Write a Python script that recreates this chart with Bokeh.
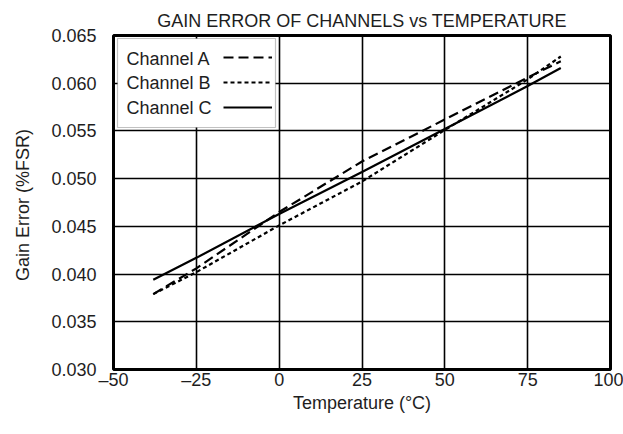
from bokeh.plotting import figure
from bokeh.models import (Range1d, FixedTicker, NumeralTickFormatter, Legend, LegendItem,
                          Label, BoxAnnotation, ColumnDataSource)
from bokeh.embed import file_html
from bokeh.resources import INLINE

# ---- data ----
temps = [-38, -25, 0, 25, 50, 75, 85]
chan_a = [0.0379, 0.0406, 0.0465, 0.0518, 0.0562, 0.0606, 0.0623]
chan_b = [0.0379, 0.0402, 0.0451, 0.0497, 0.0551, 0.0604, 0.0628]
chan_c = [0.0394, 0.0417, 0.0463, 0.0507, 0.0552, 0.0597, 0.0616]
series_names = ["Channel A", "Channel B", "Channel C"]
x_ticks = [-50, -25, 0, 25, 50, 75, 100]
x_tick_labels = ["\u201350", "\u201325", "0", "25", "50", "75", "100"]
y_ticks = [0.030, 0.035, 0.040, 0.045, 0.050, 0.055, 0.060, 0.065]

FONT = "Liberation Sans"
TXT = "#1e1e1e"

p = figure(width=623, height=434, output_backend="svg", toolbar_location=None,
           x_range=Range1d(-50, 100), y_range=Range1d(0.030, 0.065),
           min_border_left=113, min_border_right=13, min_border_top=35,
           min_border_bottom=65)

p.title.text = "GAIN ERROR OF CHANNELS vs TEMPERATURE"
p.title.align = "center"
p.title.text_font = FONT
p.title.text_font_size = "18px"
p.title.text_font_style = "normal"
p.title.text_color = TXT
p.title.standoff = 10

p.outline_line_color = "black"
p.outline_line_width = 3
p.background_fill_color = "white"

p.xaxis.ticker = FixedTicker(ticks=x_ticks)
p.xaxis.major_label_overrides = {t: s for t, s in zip(x_ticks, x_tick_labels)}
p.yaxis.ticker = FixedTicker(ticks=y_ticks)
p.yaxis.formatter = NumeralTickFormatter(format="0.000")

for ax in (p.xaxis[0], p.yaxis[0]):
    ax.axis_line_color = None
    ax.major_tick_line_color = None
    ax.minor_tick_line_color = None
    ax.major_tick_out = 0
    ax.major_tick_in = 0
    ax.major_label_text_font = FONT
    ax.major_label_text_font_size = "18px"
    ax.major_label_text_color = TXT
    ax.axis_label_text_font = FONT
    ax.axis_label_text_font_size = "18px"
    ax.axis_label_text_font_style = "normal"
    ax.axis_label_text_color = TXT

p.xaxis.axis_label = "Temperature (\u00b0C)"
p.xaxis.major_label_standoff = 0
p.xaxis.axis_label_standoff = 0
p.yaxis.axis_label = "Gain Error  (%FSR)"
p.yaxis.major_label_standoff = 17
p.yaxis.axis_label_standoff = 15

p.xgrid.ticker = FixedTicker(ticks=x_ticks)
p.ygrid.ticker = FixedTicker(ticks=y_ticks)
for g in (p.xgrid[0], p.ygrid[0]):
    g.grid_line_color = "black"
    g.grid_line_width = 1.6

src = ColumnDataSource(dict(t=temps, a=chan_a, b=chan_b, c=chan_c))
ra = p.line("t", "a", source=src, line_color="black", line_width=2.2, line_dash="10 5")
rb = p.line("t", "b", source=src, line_color="black", line_width=2.2, line_dash="4 3")
rc = p.line("t", "c", source=src, line_color="black", line_width=2.2)

# legend box (white, covers grid)
box = BoxAnnotation(left=4, right=162, top=331, bottom=242,
                    left_units="screen", right_units="screen",
                    top_units="screen", bottom_units="screen",
                    fill_color="white", fill_alpha=1.0,
                    line_color="#333333", line_width=1.2, level="annotation")
p.add_layout(box)

# legend texts on the left
row_y = [311, 287, 262]
for name, yy in zip(series_names, row_y):
    p.add_layout(Label(x=13, y=yy, x_units="screen", y_units="screen", text=name,
                       text_font=FONT, text_font_size="18px", text_color=TXT,
                       text_baseline="middle", text_align="left"))

# legend line samples on the right
legend = Legend(items=[LegendItem(label=" ", renderers=[r]) for r in (ra, rb, rc)],
                location=(110, 252), glyph_width=49, glyph_height=20, spacing=5,
                padding=0, margin=0, label_width=0, label_standoff=0,
                label_text_font_size="1px", border_line_color=None,
                background_fill_alpha=0)
p.add_layout(legend)

open("out.html", "w").write(file_html(p, INLINE))
